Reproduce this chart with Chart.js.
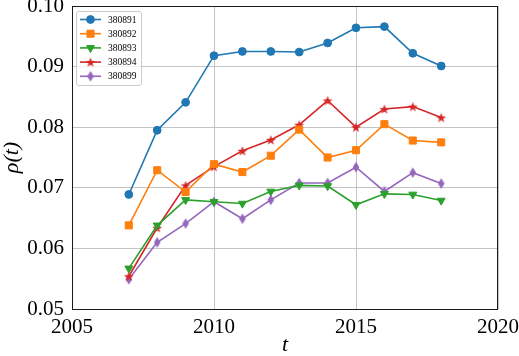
<!DOCTYPE html>
<html>
<head>
<meta charset="utf-8">
<script src="https://cdn.jsdelivr.net/npm/chart.js@4"></script>
<style>
  html, body { margin: 0; padding: 0; background: #fff; }
  #wrap { width: 519px; height: 356px; position: relative; }
</style>
</head>
<body>
<div id="wrap"><canvas id="Graph_Rho"></canvas></div>
<script>
var years = [2007, 2008, 2009, 2010, 2011, 2012, 2013, 2014, 2015, 2016, 2017, 2018];
var labels = ["380891", "380892", "380893", "380894", "380899"];
var rho_380891 = [0.0689, 0.0795, 0.0841, 0.0918, 0.0925, 0.0925, 0.0924, 0.0939, 0.0964, 0.0966, 0.0922, 0.0901];
var rho_380892 = [0.0638, 0.0729, 0.0693, 0.0739, 0.0726, 0.0753, 0.0796, 0.0750, 0.0762, 0.0805, 0.0778, 0.0775];
var rho_380893 = [0.0567, 0.0638, 0.0680, 0.0677, 0.0674, 0.0694, 0.0704, 0.0703, 0.0672, 0.0690, 0.0689, 0.0679];
var rho_380894 = [0.0554, 0.0634, 0.0704, 0.0735, 0.0761, 0.0779, 0.0804, 0.0844, 0.0800, 0.0830, 0.0834, 0.0816];
var rho_380899 = [0.0549, 0.0610, 0.0641, 0.0677, 0.0649, 0.0680, 0.0708, 0.0708, 0.0734, 0.0694, 0.0725, 0.0707];
var xTicks = [2005, 2010, 2015, 2020];
var yTicks = [0.05, 0.06, 0.07, 0.08, 0.09, 0.10];

var colors = ["#1f77b4", "#ff7f0e", "#2ca02c", "#d62728", "#9467bd"];
var serif = "'Liberation Serif', 'Times New Roman', serif";

function starMarker(color) {
    var c = document.createElement("canvas");
    c.width = 12; c.height = 12;
    var g = c.getContext("2d");
    g.beginPath();
    for (var i = 0; i < 10; i++) {
        var r = i % 2 === 0 ? 5.2 : 2.1;
        var a = -Math.PI / 2 + i * Math.PI / 5;
        var px = 6 + r * Math.cos(a), py = 6.5 + r * Math.sin(a);
        if (i === 0) g.moveTo(px, py); else g.lineTo(px, py);
    }
    g.closePath();
    g.fillStyle = color;
    g.fill();
    return c;
}

function thinDiamond(color) {
    var c = document.createElement("canvas");
    c.width = 10; c.height = 12;
    var g = c.getContext("2d");
    g.beginPath();
    g.moveTo(5, 0.8);
    g.lineTo(8.3, 6);
    g.lineTo(5, 11.2);
    g.lineTo(1.7, 6);
    g.closePath();
    g.fillStyle = color;
    g.fill();
    return c;
}

var markers = [
    { style: "circle", radius: 3.9, rotation: 0 },
    { style: "rect", radius: 5, rotation: 0 },
    { style: "triangle", radius: 4.6, rotation: 180 },
    { style: starMarker(colors[3]), radius: 5, rotation: 0 },
    { style: thinDiamond(colors[4]), radius: 5, rotation: 0 }
];

var series = [rho_380891, rho_380892, rho_380893, rho_380894, rho_380899];
var datasets = series.map(function (vals, k) {
    return {
        label: labels[k],
        data: vals.map(function (v, i) { return { x: years[i], y: v }; }),
        borderColor: colors[k],
        backgroundColor: colors[k],
        borderWidth: 1.6,
        pointStyle: markers[k].style,
        pointRadius: markers[k].radius,
        pointHoverRadius: markers[k].radius,
        pointRotation: markers[k].rotation,
        pointBorderWidth: 1,
        tension: 0
    };
});

var framePlugin = {
    id: "frame",
    afterDatasetsDraw: function (chart) {
        var ctx = chart.ctx, a = chart.chartArea;
        ctx.save();
        ctx.strokeStyle = "#1a1a1a";
        ctx.lineWidth = 1;
        ctx.strokeRect(Math.round(a.left) + 0.5, Math.round(a.top) + 0.5,
            Math.round(a.right - a.left) - 1, Math.round(a.bottom - a.top));
        ctx.restore();
    }
};

var boxLegend = {
    id: "boxLegend",
    afterDraw: function (chart) {
        var ctx = chart.ctx, a = chart.chartArea;
        var x0 = a.left + 4.5, y0 = a.top + 5.5;
        var w = 65, rowH = 14.2;
        var h = rowH * chart.data.datasets.length + 3;
        ctx.save();
        ctx.beginPath();
        ctx.roundRect(x0, y0, w, h, 2.5);
        ctx.fillStyle = "rgba(255,255,255,0.8)";
        ctx.fill();
        ctx.strokeStyle = "#cccccc";
        ctx.lineWidth = 1;
        ctx.stroke();
        chart.data.datasets.forEach(function (ds, i) {
            var cy = y0 + 8 + i * rowH;
            ctx.strokeStyle = ds.borderColor;
            ctx.lineWidth = 1.6;
            ctx.beginPath();
            ctx.moveTo(x0 + 3.5, cy);
            ctx.lineTo(x0 + 24.5, cy);
            ctx.stroke();
            ctx.fillStyle = ds.backgroundColor;
            ctx.lineWidth = 1;
            Chart.helpers.drawPoint(ctx, {
                pointStyle: ds.pointStyle,
                radius: ds.pointRadius,
                rotation: ds.pointRotation,
                borderWidth: 1
            }, x0 + 14, cy);
            ctx.fillStyle = "#000";
            ctx.font = "9.5px " + serif;
            ctx.textBaseline = "middle";
            ctx.textAlign = "left";
            ctx.fillText(ds.label, x0 + 31.5, cy + 0.5);
        });
        ctx.restore();
    }
};

var ctx = document.getElementById("Graph_Rho").getContext("2d");
var graph = new Chart(ctx, {
    type: "line",
    data: { datasets: datasets },
    plugins: [framePlugin, boxLegend],
    options: {
        responsive: true,
        maintainAspectRatio: false,
        animation: false,
        layout: { padding: { top: 6, right: 21, left: 0, bottom: 0 } },
        plugins: {
            legend: { display: false },
            tooltip: { enabled: false }
        },
        scales: {
            x: {
                type: "linear",
                min: 2005,
                max: 2020,
                afterBuildTicks: function (scale) {
                    scale.ticks = xTicks.map(function (v) { return { value: v }; });
                },
                afterFit: function (scale) {
                    scale.height = 47;
                    scale.paddingLeft = 0;
                    scale.paddingRight = 0;
                },
                grid: { color: "#c4c4c4", lineWidth: 1, drawTicks: false },
                border: { display: false },
                ticks: {
                    color: "#000",
                    padding: 6,
                    maxRotation: 0,
                    font: { family: serif, size: 21 },
                    callback: function (v) { return String(v); }
                },
                title: {
                    display: true,
                    text: "t",
                    color: "#000",
                    padding: 0,
                    font: { family: serif, size: 22, style: "italic", lineHeight: 1 }
                }
            },
            y: {
                type: "linear",
                min: 0.05,
                max: 0.10,
                afterBuildTicks: function (scale) {
                    scale.ticks = yTicks.map(function (v) { return { value: v }; });
                },
                afterFit: function (scale) {
                    scale.width = 72;
                    scale.paddingTop = 0;
                    scale.paddingBottom = 0;
                },
                grid: { color: "#c4c4c4", lineWidth: 1, drawTicks: false },
                border: { display: false },
                ticks: {
                    color: "#000",
                    padding: 8,
                    font: { family: serif, size: 21 },
                    callback: function (v) { return v.toFixed(2); }
                },
                title: {
                    display: true,
                    text: "ρ(t)",
                    color: "#000",
                    padding: 0,
                    font: { family: serif, size: 22, style: "italic", lineHeight: 1.15 }
                }
            }
        }
    }
});
</script>
</body>
</html>
